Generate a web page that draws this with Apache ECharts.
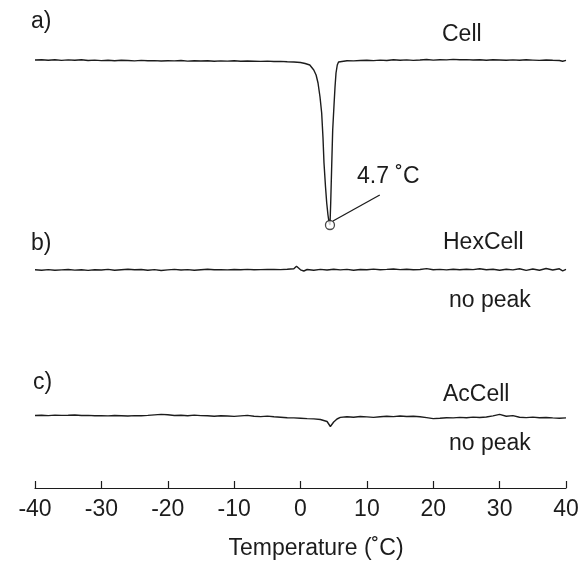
<!DOCTYPE html>
<html>
<head>
<meta charset="utf-8">
<script src="https://cdn.jsdelivr.net/npm/echarts@6/dist/echarts.min.js"></script>
<style>
html,body{margin:0;padding:0;background:#fff;}
#chart{width:585px;height:563px;}
</style>
</head>
<body>
<div id="chart"></div>
<script>
// ---- data (temperature in °C, heat flow in arbitrary units) ----
var tempA = [-40,-39,-38,-37,-36,-35,-34,-33,-32,-31,-30,-29,-28,-27,-26,-25,-24,-23,-22,-21,-20,-19,-18,-17,-16,-15,-14,-13,-12,-11,-10,-9,-8,-7,-6,-5,-4,-3,-2,-1,0,0.7,1.4,2.0,2.35,2.64,2.94,3.19,3.39,3.54,3.77,3.95,4.14,4.29,4.44,4.55,4.7,4.85,5.05,5.2,5.35,5.54,5.73,5.95,7,8,9,10,11,12,13,14,15,16,17,18,19,20,21,22,23,24,25,26,27,28,29,30,31,32,33,34,35,36,37,38,39,39.5,40];
var cellA = [0,0.3,-0.2,0.2,-0.4,0.1,-0.3,0.2,-0.5,-0.1,-0.6,-0.2,-0.7,-0.3,-0.5,-0.9,-0.4,-0.8,-0.6,-1.0,-0.7,-0.9,-0.5,-1.1,-0.8,-1.0,-0.7,-1.2,-0.9,-1.1,-0.8,-1.3,-1.0,-1.2,-1.4,-1.1,-1.5,-1.4,-1.8,-2.0,-2.5,-3.5,-5,-10,-15,-23,-37,-53,-78,-103,-127,-143,-155,-162,-165,-143,-106,-70,-45,-27,-13,-5,-2,-1.2,-0.8,-0.9,-0.5,-0.2,-0.6,-0.1,-0.5,0.2,-0.3,0.1,-0.4,0.0,0.5,-0.1,0.3,0.1,0.6,0.2,0.4,0.0,0.3,-0.2,0.2,0.0,-0.3,0.1,-0.2,0.2,-0.1,-0.4,0.0,-0.3,-0.5,-1.2,-0.4];

var tempB = [-40,-39,-38,-37,-36,-35,-34,-33,-32,-31,-30,-29,-28,-27,-26,-25,-24,-23,-22,-21,-20,-19,-18,-17,-16,-15,-14,-13,-12,-11,-10,-9,-8,-7,-6,-5,-4,-3,-2,-1,-0.6,0,0.5,1,2,3,4,5,6,7,8,9,10,11,12,13,14,15,16,17,18,19,20,21,22,23,24,25,26,27,28,29,30,31,32,33,34,35,36,37,38,39,39.5,40];
var hexB = [0.3,-0.2,0.4,-0.3,0.1,0.5,-0.1,0.2,-0.4,0.3,0.0,0.6,-0.2,0.3,0.8,0.2,0.5,-0.3,0.4,-0.5,0.1,0.6,0.0,0.4,-0.2,0.3,0.7,0.2,0.4,0.1,0.5,0.3,0.6,0.2,0.4,0.5,0.6,0.4,0.7,1.2,3.8,0.2,-1.0,0.5,-0.3,0.6,0.0,0.8,0.1,0.6,-0.2,0.5,0.2,0.9,0.3,0.6,1.0,0.4,0.8,0.2,0.5,1.4,0.3,0.6,0.1,0.7,0.2,0.8,0.4,1.2,0.3,0.7,-0.2,0.8,0.1,1.3,-0.4,1.0,-0.3,1.5,0.0,1.2,-0.8,0.6];

var tempC = [-40,-39,-38,-37,-36,-35,-34,-33,-32,-31,-30,-29,-28,-27,-26,-25,-24,-23,-22,-21,-20,-19,-18,-17,-16,-15,-14,-13,-12,-11,-10,-9,-8,-7,-6,-5,-4,-3,-2,-1,0,1,2,3,4,4.5,5,5.5,6,7,8,9,10,11,12,13,14,15,16,17,18,19,20,21,22,23,24,25,26,27,28,29,30,31,32,33,34,35,36,37,38,39,40];
var acC = [2.5,2.8,2.4,2.9,2.6,2.7,3.0,2.5,2.6,2.2,2.4,2.1,2.5,2.3,2.0,2.4,2.2,2.6,3.1,3.6,3.2,2.5,2.7,2.3,2.9,2.4,2.2,1.8,2.3,2.0,1.6,2.1,2.6,1.8,1.4,1.9,1.2,0.8,0.3,0.1,-0.2,-0.6,-0.9,-1.5,-3.5,-8.5,-4.0,-1.0,0.6,1.2,0.8,1.5,1.1,0.6,1.3,1.8,1.4,2.0,1.5,1.7,1.2,0.4,-0.6,-0.2,0.3,0.1,0.6,0.3,0.9,0.5,1.0,2.1,3.6,1.8,2.4,0.8,0.4,0.9,0.2,0.5,0.1,-0.2,0.1];

var xTicks = [-40,-30,-20,-10,0,10,20,30,40];
var panelLabels = ['a)','b)','c)'];
var sampleNames = ['Cell','HexCell','AcCell'];
var peakText = '4.7 \u02DAC';
var noPeakText = 'no peak';
var xTitle = 'Temperature (\u02DAC)';

function pairs(xs, ys){ return xs.map(function(x,i){ return [x, ys[i]]; }); }

// peak of the Cell trace (minimum)
var pIdx = 0;
cellA.forEach(function(v,i){ if (v < cellA[pIdx]) pIdx = i; });
var peakPt = [tempA[pIdx], cellA[pIdx]];

var INK = '#1c1c1c';
var FONT = 'Liberation Sans, Arial, sans-serif';
var lineStyle = {color: INK, width: 1.4};

var chart = echarts.init(document.getElementById('chart'), null, {renderer:'canvas'});

function hiddenX(i){
  return {gridIndex:i, type:'value', min:-40, max:40, interval:10, show:false};
}
function txt(x, y, s, align){
  return {type:'text', x:x, y:y, style:{text:s, font:'23px '+FONT, fill:INK, align:align||'left', verticalAlign:'middle'}};
}

var option = {
  backgroundColor: '#fff',
  animation: false,
  grid: [
    {left:35, right:19, top:40, height:200},
    {left:35, right:19, top:250, height:40},
    {left:35, right:19, top:393, bottom:75}
  ],
  xAxis: [
    hiddenX(0),
    hiddenX(1),
    {
      gridIndex:2, type:'value', min:-40, max:40, interval:10,
      axisLine:{show:true, onZero:false, lineStyle:{color:INK, width:1.2}},
      axisTick:{show:true, inside:true, length:7, lineStyle:{color:INK, width:1.2}},
      splitLine:{show:false},
      axisLabel:{color:INK, fontSize:23, fontFamily:FONT, margin:10,
        formatter:function(v){ return xTicks.indexOf(v) >= 0 ? String(v) : ''; }}
    }
  ],
  yAxis: [
    {gridIndex:0, type:'value', min:-180, max:20, show:false},
    {gridIndex:1, type:'value', min:-20, max:20, show:false},
    {gridIndex:2, type:'value', min:-70, max:25, show:false}
  ],
  series: [
    {type:'line', xAxisIndex:0, yAxisIndex:0, data:pairs(tempA, cellA), showSymbol:false, lineStyle:lineStyle, z:2},
    {type:'line', xAxisIndex:1, yAxisIndex:1, data:pairs(tempB, hexB), showSymbol:false, lineStyle:lineStyle, z:2},
    {type:'line', xAxisIndex:2, yAxisIndex:2, data:pairs(tempC, acC), showSymbol:false, lineStyle:lineStyle, z:2},
    {
      type:'scatter', xAxisIndex:0, yAxisIndex:0, data:[peakPt],
      symbol:'circle', symbolSize:9,
      itemStyle:{color:'#fff', borderColor:INK, borderWidth:1.3},
      z:5,
      markLine:{
        silent:true, symbol:['none','none'], animation:false,
        lineStyle:{color:INK, width:1.3, type:'solid'},
        label:{show:false},
        data:[[{coord:[peakPt[0]+0.45, peakPt[1]+4]}, {coord:[peakPt[0]+7.5, peakPt[1]+30]}]]
      }
    }
  ],
  graphic: [
    txt(31, 22, panelLabels[0]),
    txt(442, 35, sampleNames[0]),
    txt(357, 177, peakText),
    txt(31, 244, panelLabels[1]),
    txt(443, 243, sampleNames[1]),
    txt(449, 301, noPeakText),
    txt(33, 383, panelLabels[2]),
    txt(443, 395, sampleNames[2]),
    txt(449, 444, noPeakText),
    txt(316, 549, xTitle, 'center')
  ]
};
chart.setOption(option);
</script>
</body>
</html>
